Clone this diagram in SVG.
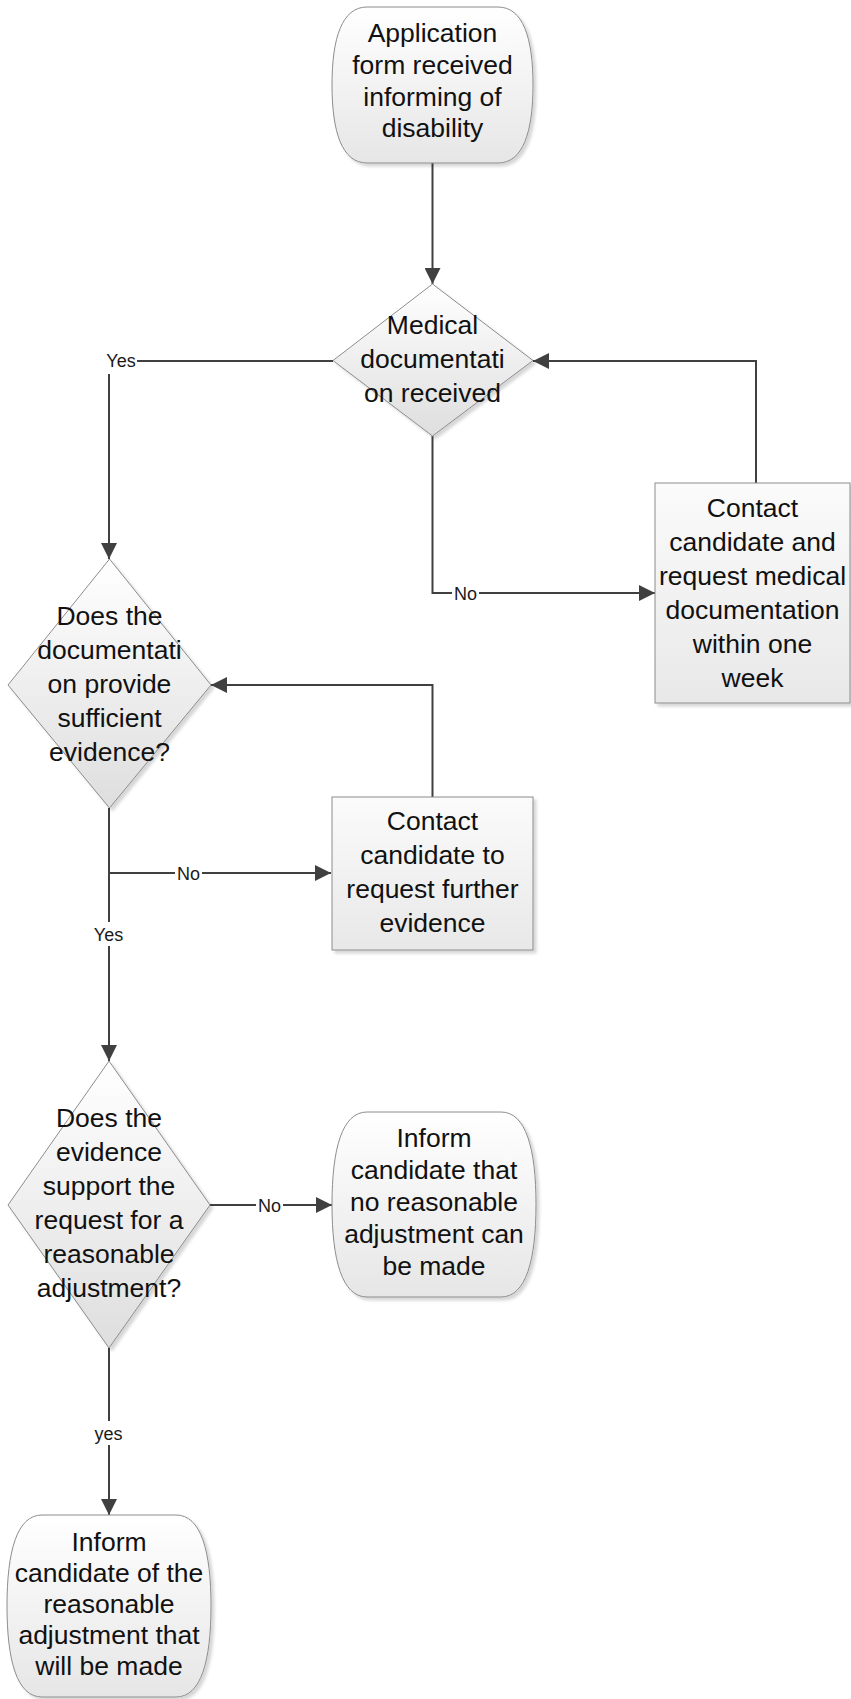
<svg xmlns="http://www.w3.org/2000/svg" width="851" height="1699" viewBox="0 0 851 1699">
<style>
.shape{stroke:#8c8c8c;stroke-width:1;filter:url(#sh)}
.term{fill:url(#gT)}
.dia{fill:url(#gD)}
.box{fill:url(#gB)}
.t{font-family:"Liberation Sans",Arial,sans-serif;font-size:26.5px;fill:#111;text-anchor:middle}
.conn{fill:none;stroke:#404040;stroke-width:2;marker-end:url(#arr)}
.lbl{font-family:"Liberation Sans",Arial,sans-serif;font-size:18px;fill:#1a1a1a;text-anchor:middle}
.lblbg{fill:#ffffff}
</style>
<defs>
<linearGradient id="gT" x1="0" y1="0" x2="0" y2="1"><stop offset="0" stop-color="#ffffff"/><stop offset="1" stop-color="#e6e6e6"/></linearGradient>
<linearGradient id="gD" x1="0" y1="0" x2="0" y2="1"><stop offset="0" stop-color="#ffffff"/><stop offset="1" stop-color="#dedede"/></linearGradient>
<linearGradient id="gB" x1="0" y1="0" x2="0" y2="1"><stop offset="0" stop-color="#fbfbfb"/><stop offset="1" stop-color="#e8e8e8"/></linearGradient>
<filter id="sh" x="-10%" y="-10%" width="125%" height="125%"><feDropShadow dx="3" dy="3" stdDeviation="1.5" flood-color="#000" flood-opacity="0.16"/></filter>
<marker id="arr" viewBox="0 0 10 10" refX="10" refY="5" markerWidth="17" markerHeight="16" markerUnits="userSpaceOnUse" orient="auto"><path d="M0,0 L10,5 L0,10 Z" fill="#404040"/></marker>
</defs>

<g id="connectors">
<path class="conn" d="M432.5,163 L432.5,284"/>
<path class="conn" d="M333,361 L109,361 L109,559"/>
<path class="conn" d="M432.5,436 L432.5,593 L655,593"/>
<path class="conn" d="M756,483 L756,361 L533,361"/>
<path class="conn" d="M109,808 L109,1061"/>
<path class="conn" d="M109,873 L331,873"/>
<path class="conn" d="M432.5,797 L432.5,685 L211,685"/>
<path class="conn" d="M210,1205 L332,1205"/>
<path class="conn" d="M109,1348 L109,1515"/>
<g id="labels">
<rect class="lblbg" x="104" y="350" width="33" height="24"/>
<text class="lbl" x="121" y="367">Yes</text>
<rect class="lblbg" x="452" y="583" width="27" height="20"/>
<text class="lbl" x="465.5" y="599.5">No</text>
<rect class="lblbg" x="175" y="863" width="27" height="20"/>
<text class="lbl" x="188.5" y="879.5">No</text>
<rect class="lblbg" x="92" y="922" width="33" height="24"/>
<text class="lbl" x="108.5" y="941">Yes</text>
<rect class="lblbg" x="256" y="1195" width="27" height="20"/>
<text class="lbl" x="269.5" y="1211.5">No</text>
<rect class="lblbg" x="93" y="1421" width="31" height="24"/>
<text class="lbl" x="108.5" y="1440">yes</text>
</g>
</g>

<g id="n-start">
<path class="shape term" d="M367,7 L498,7 C523,7 533,38 533,85 C533,132 523,163 498,163 L367,163 C342,163 332,132 332,85 C332,38 342,7 367,7 Z"/>
<text class="t"><tspan x="432.5" y="42">Application</tspan><tspan x="432.5" y="74">form received</tspan><tspan x="432.5" y="106">informing of</tspan><tspan x="432.5" y="137">disability</tspan></text>
</g>

<g id="n-medical">
<path class="shape dia" d="M432.5,284 L533,360.5 L432.5,436 L333,360.5 Z"/>
<text class="t"><tspan x="432.5" y="334">Medical</tspan><tspan x="432.5" y="368">documentati</tspan><tspan x="432.5" y="402">on received</tspan></text>
</g>

<g id="n-request-medical">
<rect class="shape box" x="655" y="483" width="195" height="220"/>
<text class="t"><tspan x="752.5" y="517">Contact</tspan><tspan x="752.5" y="551">candidate and</tspan><tspan x="752.5" y="585">request medical</tspan><tspan x="752.5" y="619">documentation</tspan><tspan x="752.5" y="653">within one</tspan><tspan x="752.5" y="687">week</tspan></text>
</g>

<g id="n-sufficient">
<path class="shape dia" d="M109.5,559 L211,685 L109.5,808 L8,685 Z"/>
<text class="t"><tspan x="109.5" y="625">Does the</tspan><tspan x="109.5" y="659">documentati</tspan><tspan x="109.5" y="693">on provide</tspan><tspan x="109.5" y="727">sufficient</tspan><tspan x="109.5" y="761">evidence?</tspan></text>
</g>

<g id="n-further">
<rect class="shape box" x="332" y="797" width="201" height="153"/>
<text class="t"><tspan x="432.5" y="830">Contact</tspan><tspan x="432.5" y="864">candidate to</tspan><tspan x="432.5" y="898">request further</tspan><tspan x="432.5" y="932">evidence</tspan></text>
</g>

<g id="n-support">
<path class="shape dia" d="M109,1061 L210,1205 L109,1348 L8,1205 Z"/>
<text class="t"><tspan x="109" y="1127">Does the</tspan><tspan x="109" y="1161">evidence</tspan><tspan x="109" y="1195">support the</tspan><tspan x="109" y="1229">request for a</tspan><tspan x="109" y="1263">reasonable</tspan><tspan x="109" y="1297">adjustment?</tspan></text>
</g>

<g id="n-no-adjust">
<path class="shape term" d="M367,1112 L501,1112 C526,1112 536,1149 536,1204.5 C536,1260 526,1297 501,1297 L367,1297 C342,1297 332,1260 332,1204.5 C332,1149 342,1112 367,1112 Z"/>
<text class="t"><tspan x="434" y="1147">Inform</tspan><tspan x="434" y="1179">candidate that</tspan><tspan x="434" y="1211">no reasonable</tspan><tspan x="434" y="1243">adjustment can</tspan><tspan x="434" y="1275">be made</tspan></text>
</g>

<g id="n-adjust">
<path class="shape term" d="M42,1515 L176,1515 C201,1515 211,1551 211,1606 C211,1661 201,1697 176,1697 L42,1697 C17,1697 7,1661 7,1606 C7,1551 17,1515 42,1515 Z"/>
<text class="t"><tspan x="109" y="1551">Inform</tspan><tspan x="109" y="1582">candidate of the</tspan><tspan x="109" y="1613">reasonable</tspan><tspan x="109" y="1644">adjustment that</tspan><tspan x="109" y="1675">will be made</tspan></text>
</g>
</svg>
